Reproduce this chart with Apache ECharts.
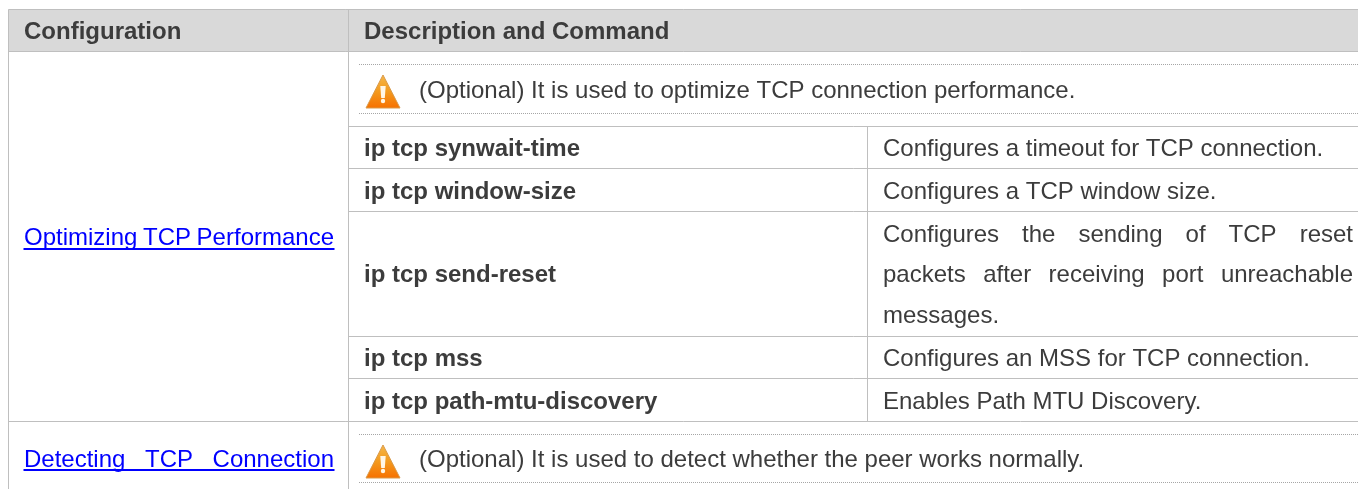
<!DOCTYPE html>
<html>
<head>
<meta charset="utf-8">
<title>TCP configuration</title>
<style>
  html, body { margin: 0; padding: 0; background: #fff; }
  #chart { width: 1358px; height: 489px; }
</style>
<script src="https://cdn.jsdelivr.net/npm/echarts@6/dist/echarts.min.js"></script>
</head>
<body>
<div id="chart"></div>
<script>
// table content
const headers = ['Configuration', 'Description and Command']
const configLinks = [['Optimizing', 'TCP', 'Performance'], ['Detecting', 'TCP', 'Connection']]
const notes = [
  '(Optional) It is used to optimize TCP connection performance.',
  '(Optional) It is used to detect whether the peer works normally.'
]
const commands = ['ip tcp synwait-time', 'ip tcp window-size', 'ip tcp send-reset', 'ip tcp mss', 'ip tcp path-mtu-discovery']
const descriptions = [
  'Configures a timeout for TCP connection.',
  'Configures a TCP window size.',
  null,
  'Configures an MSS for TCP connection.',
  'Enables Path MTU Discovery.'
]
const resetLines = [
  ['Configures', 'the', 'sending', 'of', 'TCP', 'reset'],
  ['packets', 'after', 'receiving', 'port', 'unreachable'],
  ['messages.']
]

// layout, in picture pixels
const tableLeft = 8.5, colSplit = 348.5, cmdSplit = 867.5, tableRight = 1358
const headTop = 9.5, headBottom = 51.5
const rowLines = [126.5, 168.5, 211.5, 336.5, 378.5, 421.5]
const dotLines = [64.5, 113.5, 434.5, 482.5]
const rowMiddles = [149, 192, 275, 359, 402]
const resetMiddles = [235, 275, 316]
const noteMiddles = [91, 460]
const iconTops = [74, 444]
const linkMiddles = [238, 460]
const linkRuleY = [249, 470]

const FONT = '"Liberation Sans", Arial, sans-serif'
const SIZE = 24
const TEXT_COLOR = '#3C3C3C'
const RULE_COLOR = '#BFBFBF'

const measure = document.createElement('canvas').getContext('2d')

function textEl(api, text, x, y, font, fill) {
  const p = api.coord([x, y])
  return { type: 'text', style: { x: p[0], y: p[1], text, font, fill, textAlign: 'left', textVerticalAlign: 'middle' } }
}

// spread the words between two edges, the way the justified cells do
function justified(api, words, left, right, y, font, fill) {
  measure.font = font
  const widths = words.map(w => measure.measureText(w).width)
  const gap = words.length > 1 ? (right - left - widths.reduce((a, b) => a + b, 0)) / (words.length - 1) : 0
  let x = left
  return words.map((w, i) => {
    const el = textEl(api, w, x, y, font, fill)
    x += widths[i] + gap
    return el
  })
}

function ruleEl(api, x1, y1, x2, y2, style) {
  const a = api.coord([x1, y1]), b = api.coord([x2, y2])
  return { type: 'line', shape: { x1: a[0], y1: a[1], x2: b[0], y2: b[1] }, style }
}

function iconEl(api, top) {
  const p = api.coord([365, top])
  return {
    type: 'group', x: p[0], y: p[1],
    children: [
      {
        type: 'polygon',
        shape: { points: [[18, 1], [35, 34], [1, 34]] },
        style: {
          fill: new echarts.graphic.LinearGradient(0, 0, 0, 1, [
            { offset: 0, color: '#F5B84A' },
            { offset: 0.5, color: '#F39A1E' },
            { offset: 1, color: '#F77000' }
          ]),
          stroke: '#D99A4A', lineWidth: 1, lineJoin: 'round'
        }
      },
      { type: 'polygon', shape: { points: [[15.3, 12], [20.7, 12], [19.8, 24], [16.2, 24]] }, style: { fill: '#FFF6E6' } },
      { type: 'circle', shape: { cx: 18, cy: 27, r: 2.2 }, style: { fill: '#FFF6E6' } }
    ]
  }
}

function renderTable(params, api) {
  const bold = 'bold ' + SIZE + 'px ' + FONT
  const normal = SIZE + 'px ' + FONT
  const rule = { stroke: RULE_COLOR, lineWidth: 1 }
  const dots = { stroke: '#A6A6A6', lineWidth: 1, lineDash: [1, 1] }
  const link = { stroke: '#0000FF', lineWidth: 2 }
  const kids = []

  const h0 = api.coord([tableLeft, headTop]), h1 = api.coord([tableRight, headBottom])
  kids.push({ type: 'rect', shape: { x: h0[0], y: h0[1], width: h1[0] - h0[0], height: h1[1] - h0[1] }, style: { fill: '#D9D9D9' } })

  kids.push(ruleEl(api, tableLeft, headTop, tableRight, headTop, rule))
  kids.push(ruleEl(api, tableLeft, headBottom, tableRight, headBottom, rule))
  kids.push(ruleEl(api, tableLeft, headTop, tableLeft, 489, rule))
  kids.push(ruleEl(api, colSplit, headTop, colSplit, 489, rule))
  kids.push(ruleEl(api, cmdSplit, rowLines[0], cmdSplit, rowLines[5], rule))
  rowLines.forEach(y => kids.push(ruleEl(api, y === rowLines[5] ? tableLeft : colSplit, y, tableRight, y, rule)))
  dotLines.forEach(y => kids.push(ruleEl(api, 359, y, tableRight, y, dots)))

  kids.push(textEl(api, headers[0], 24, 32, bold, TEXT_COLOR))
  kids.push(textEl(api, headers[1], 364, 32, bold, TEXT_COLOR))

  configLinks.forEach((words, i) => {
    kids.push(...justified(api, words, 24, 334, linkMiddles[i], normal, '#0000FF'))
    kids.push(ruleEl(api, 23.5, linkRuleY[i], 334.5, linkRuleY[i], link))
  })

  notes.forEach((note, i) => {
    kids.push(textEl(api, note, 419, noteMiddles[i], normal, TEXT_COLOR))
    kids.push(iconEl(api, iconTops[i]))
  })

  commands.forEach((cmd, i) => {
    kids.push(textEl(api, cmd, 364, rowMiddles[i], bold, TEXT_COLOR))
    if (descriptions[i]) kids.push(textEl(api, descriptions[i], 883, rowMiddles[i], normal, TEXT_COLOR))
  })
  resetLines.forEach((words, i) => {
    if (words.length > 1) kids.push(...justified(api, words, 883, 1353, resetMiddles[i], normal, TEXT_COLOR))
    else kids.push(textEl(api, words[0], 883, resetMiddles[i], normal, TEXT_COLOR))
  })

  return { type: 'group', children: kids }
}

const chart = echarts.init(document.getElementById('chart'), null, { renderer: 'canvas' })
chart.setOption({
  animation: false,
  backgroundColor: '#fff',
  grid: { left: 0, right: 0, top: 0, bottom: 0 },
  xAxis: { type: 'value', min: 0, max: 1358, show: false },
  yAxis: { type: 'value', min: 0, max: 489, inverse: true, show: false },
  series: [{
    type: 'custom',
    coordinateSystem: 'cartesian2d',
    clip: false,
    silent: true,
    renderItem: renderTable,
    data: [[0, 0]]
  }]
})
</script>
</body>
</html>
